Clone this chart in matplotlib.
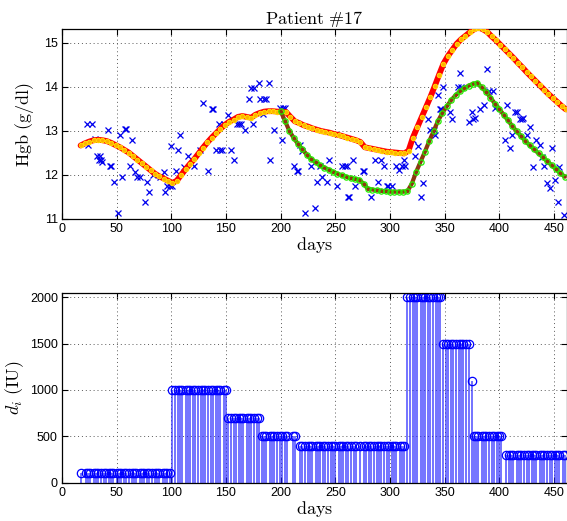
import matplotlib
matplotlib.use("Agg")
import matplotlib.pyplot as plt

# ---------------- data ----------------
obs_days = [23, 24, 27, 30, 32, 34, 35, 36, 37, 42, 44, 45, 48, 51, 53, 55, 58, 59, 62, 64,
            67, 69, 71, 76, 78, 80, 83, 90, 93, 94, 96, 99, 99.5, 101, 104, 106, 108, 112, 115, 121,
            126, 129, 134, 137, 138, 141, 144, 145, 146, 148, 152, 155, 157, 160, 162, 164, 167, 171, 173, 175,
            176, 180, 181, 184, 184.5, 187, 189, 190, 194, 199, 201, 202, 204, 212, 215, 216, 218, 220, 222, 228,
            231, 233, 236, 238, 242, 244, 252, 256, 259, 261, 261.5, 263, 266, 268, 275, 276, 283, 286, 289, 292,
            294.5, 297.5, 298.5, 301.5, 306, 308, 311, 313, 314, 321, 323, 326, 328, 330, 335, 337, 340, 341, 344, 346,
            347, 349, 355, 357, 362, 364, 365, 372, 375, 376, 378, 382, 386, 389, 391, 394, 396, 405, 407, 410,
            412, 414, 416, 419, 421, 422, 425, 428, 431, 434, 437, 439, 441, 444, 446, 448, 451, 454, 455, 459]
obs_hgb = [13.15, 12.67, 13.15, 12.81, 12.44, 12.34, 12.44, 12.34, 12.30, 13.02, 12.21, 12.21, 11.85, 11.14, 12.91, 11.96, 13.04, 13.04, 12.21, 12.80,
           12.07, 11.96, 11.96, 11.38, 11.85, 11.62, 12.00, 11.96, 12.07, 11.62, 11.74, 11.76, 12.66, 11.76, 12.08, 12.56, 12.91, 12.19, 12.43, 12.21,
           12.56, 13.63, 12.08, 13.49, 13.49, 12.56, 13.15, 12.56, 12.56, 13.15, 13.36, 12.56, 12.33, 13.15, 13.15, 13.15, 13.02, 13.73, 13.97, 13.15,
           13.97, 14.10, 13.73, 13.39, 13.73, 13.73, 14.10, 12.33, 13.02, 13.52, 12.80, 13.52, 13.52, 12.21, 12.08, 12.08, 12.67, 12.55, 11.14, 12.21,
           11.26, 11.84, 12.21, 11.96, 11.84, 12.33, 11.74, 12.21, 12.21, 12.21, 11.49, 11.49, 12.33, 11.74, 12.08, 12.08, 11.49, 12.33, 11.84, 12.33,
           12.21, 11.74, 11.76, 11.76, 12.21, 12.11, 12.21, 12.33, 12.21, 12.80, 12.43, 12.66, 11.49, 11.81, 13.27, 13.02, 13.02, 12.91, 13.82, 13.49,
           13.49, 14.01, 13.43, 13.27, 14.01, 14.31, 14.01, 13.20, 13.43, 13.27, 13.30, 13.49, 13.59, 14.41, 13.91, 13.91, 13.52, 12.80, 13.59, 12.61,
           12.91, 13.43, 13.43, 13.28, 13.28, 13.30, 12.91, 13.09, 12.19, 12.80, 12.67, 12.42, 12.21, 11.81, 11.70, 12.61, 11.89, 11.39, 12.19, 11.08]

model1_days = [17, 21, 25, 29, 33, 37, 41, 45, 49, 53, 57, 61, 65, 69, 73, 77, 81, 85, 89, 93,
               97, 101, 105, 109, 113, 117, 121, 125, 129, 133, 137, 141, 145, 149, 153, 157, 161, 165, 169, 173,
               177, 181, 185, 189, 193, 197, 201, 205, 209, 213, 217, 221, 225, 229, 233, 237, 241, 245, 249, 253,
               257, 261, 265, 269, 273, 277, 281, 285, 289, 293, 297, 301, 305, 309, 313, 317, 321, 325, 329, 333,
               337, 341, 345, 349, 353, 357, 361, 365, 369, 373, 377, 381, 385, 389, 393, 397, 401, 405, 409, 413,
               417, 421, 425, 429, 433, 437, 441, 445, 449, 453, 457, 461]
model1_hgb = [12.67, 12.72, 12.76, 12.79, 12.80, 12.79, 12.77, 12.73, 12.68, 12.63, 12.57, 12.51, 12.43, 12.35, 12.27, 12.19, 12.11, 12.03, 11.97, 11.92,
              11.87, 11.82, 11.87, 12.00, 12.13, 12.25, 12.36, 12.49, 12.62, 12.74, 12.85, 12.95, 13.05, 13.14, 13.21, 13.26, 13.32, 13.34, 13.32, 13.30,
              13.37, 13.41, 13.44, 13.45, 13.45, 13.44, 13.44, 13.43, 13.32, 13.22, 13.18, 13.13, 13.10, 13.06, 13.03, 13.00, 12.98, 12.96, 12.93, 12.91,
              12.88, 12.85, 12.82, 12.79, 12.75, 12.63, 12.61, 12.59, 12.57, 12.55, 12.53, 12.52, 12.51, 12.50, 12.49, 12.55, 12.85, 13.08, 13.31, 13.54,
              13.77, 14.02, 14.28, 14.53, 14.70, 14.84, 14.98, 15.08, 15.16, 15.24, 15.31, 15.35, 15.31, 15.25, 15.15, 15.06, 14.96, 14.86, 14.76, 14.66,
              14.55, 14.45, 14.34, 14.24, 14.14, 14.04, 13.94, 13.84, 13.75, 13.66, 13.57, 13.49]

model2_days = [200, 204, 208, 212, 216, 220, 224, 228, 232, 236, 240, 244, 248, 252, 256, 260, 264, 268, 272, 276,
               280, 284, 288, 292, 296, 300, 304, 308, 312, 316, 320, 324, 328, 332, 336, 340, 344, 348, 352, 356,
               360, 364, 368, 372, 376, 380, 384, 388, 392, 396, 400, 404, 408, 412, 416, 420, 424, 428, 432, 436,
               440, 444, 448, 452, 456, 460]
model2_hgb = [13.45, 13.23, 13.00, 12.84, 12.70, 12.58, 12.46, 12.36, 12.29, 12.22, 12.17, 12.12, 12.07, 12.03, 11.99, 11.96, 11.93, 11.91, 11.89, 11.80,
              11.68, 11.67, 11.65, 11.64, 11.63, 11.62, 11.62, 11.62, 11.62, 11.63, 11.80, 12.07, 12.30, 12.53, 12.77, 13.00, 13.23, 13.41, 13.56, 13.70,
              13.81, 13.90, 13.97, 14.03, 14.07, 14.09, 13.99, 13.89, 13.76, 13.62, 13.50, 13.37, 13.24, 13.11, 12.99, 12.88, 12.77, 12.67, 12.58, 12.49,
              12.40, 12.31, 12.22, 12.13, 12.04, 11.96]

dose_days = [17, 22, 24, 26, 29, 31, 33, 36, 38, 40, 43, 45, 47, 50, 52, 54, 57, 59, 61, 64,
             66, 68, 71, 73, 75, 78, 80, 82, 85, 87, 89, 92, 94, 96, 99,
             101, 103, 106, 108, 110, 113, 115, 117, 120, 122, 124, 127, 129, 131, 134, 136, 138, 141, 143, 145, 148, 150,
             152, 155, 157, 159, 162, 164, 166, 169, 171, 173, 176, 178, 180,
             183, 185, 187, 190, 192, 194, 197, 199, 201, 204, 206, 211, 213,
             218, 220, 222, 225, 227, 229, 232, 234, 236, 239, 241, 243, 246, 248, 250, 253, 255, 257, 260, 262, 264, 267, 269,
             273, 276, 278, 281, 283, 285, 288, 290, 292, 295, 297, 299, 302, 304, 306, 309, 311, 313,
             316, 318, 321, 323, 325, 328, 330, 332, 335, 337, 339, 342, 344, 346,
             349, 351, 353, 356, 358, 360, 363, 365, 367, 370, 372,
             375,
             377, 379, 381, 384, 386, 388, 391, 393, 395, 398, 400, 402,
             406, 409, 411, 413, 416, 418, 420, 423, 425, 427, 430, 432, 434, 437, 439, 441, 444, 446, 448, 451, 453, 455, 458, 460]
dose_iu = [100] * 35 + [1000] * 22 + [700] * 13 + [500] * 13 + [400] * 41 + [2000] * 14 + [1500] * 11 + [1100] + [500] * 12 + [300] * 24

x_ticks = [0, 50, 100, 150, 200, 250, 300, 350, 400, 450]
hgb_ticks = [11, 12, 13, 14, 15]
dose_ticks = [0, 500, 1000, 1500, 2000]

# ---------------- figure ----------------
plt.rcParams['mathtext.fontset'] = 'cm'
fig = plt.figure(figsize=(5.67, 5.21), dpi=100)
W, H = 567.0, 521.0
ax1 = fig.add_axes([62 / W, 1 - 219 / H, (567 - 62) / W, (219 - 29.3) / H])
ax2 = fig.add_axes([62 / W, 1 - 482.7 / H, (567 - 62) / W, (482.7 - 293.3) / H])

for ax in (ax1, ax2):
    ax.set_xlim(0, 462)
    ax.set_xticks(x_ticks)
    ax.grid(True, linestyle=(0, (1, 3)), color='0.35', linewidth=0.7)
    ax.set_axisbelow(True)
    ax.tick_params(direction='in', top=True, right=True, length=4, width=0.8, pad=3)
    for s in ax.spines.values():
        s.set_linewidth(0.9)

# top panel
ax1.plot(obs_days, obs_hgb, 'x', color='#0000EE', ms=4.2, mew=0.9, zorder=2)
ax1.plot(model1_days, model1_hgb, '-', color='red', lw=4.2, solid_capstyle='round', zorder=3)
ax1.plot(model1_days, model1_hgb, 'o', ms=3.2, mfc='#FFB000', mec='#FFE000', mew=0.7, zorder=4)
ax1.plot(model2_days, model2_hgb, '-', color='#8B3A10', lw=3.0, solid_capstyle='round', zorder=5)
ax1.plot(model2_days, model2_hgb, 'o', ms=3.8, mfc='none', mec='#22EE00', mew=0.9, zorder=6)
ax1.set_ylim(11, 15.31)
ax1.set_yticks(hgb_ticks)
ax1.set_title(r'$\mathrm{Patient\ \#17}$', fontsize=13, pad=4)
ax1.set_xlabel(r'$\mathrm{days}$', fontsize=13, labelpad=0)
ax1.set_ylabel(r'$\mathrm{Hgb\ (g/dl)}$', fontsize=13, labelpad=6)

# bottom panel
ml, sl, bl = ax2.stem(dose_days, dose_iu, linefmt='-', markerfmt='o', basefmt=' ')
plt.setp(sl, color='#2020FF', linewidth=1.1, alpha=0.8)
plt.setp(ml, markersize=6, markerfacecolor='none', markeredgecolor='#0000FF', markeredgewidth=0.9)
ax2.set_ylim(0, 2043)
ax2.set_yticks(dose_ticks)
ax2.set_xlabel(r'$\mathrm{days}$', fontsize=13, labelpad=0)
ax2.set_ylabel(r'$d_i\ \mathrm{(IU)}$', fontsize=13, labelpad=3)

for ax in (ax1, ax2):
    for lab in ax.get_xticklabels() + ax.get_yticklabels():
        lab.set_fontfamily('Liberation Sans')
        lab.set_fontsize(9)

fig.savefig('out.png', dpi=100)
